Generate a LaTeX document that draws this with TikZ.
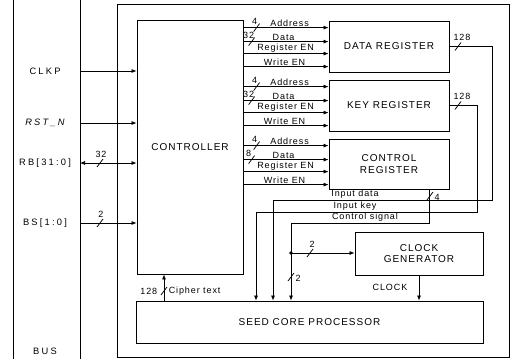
\documentclass[tikz,border=0pt]{standalone}
\usepackage{fontspec}
\setmainfont{Liberation Sans}
\newfontfamily\lblfont[LetterSpace=10]{Liberation Sans}
\newfontfamily\sigfontfam[LetterSpace=24]{Liberation Sans}
\usetikzlibrary{arrows.meta,calc}
\newcommand{\bigfnt}{\lblfont\fontsize{10}{11.5}\selectfont}
\newcommand{\smallfnt}{\lblfont\fontsize{9}{10}\selectfont}
\newcommand{\sigfnt}{\sigfontfam\fontsize{9.3}{10}\selectfont}
\tikzset{
  box/.style={draw, line width=0.8pt, inner sep=0pt, align=center, font=\bigfnt},
  wire/.style={line width=0.75pt},
  arr/.style={wire, -{Latex[length=5pt,width=4pt]}},
  lbl/.style={font=\smallfnt, inner sep=0.6pt},
  sig/.style={font=\sigfnt, inner sep=0pt},
  num/.style={font=\smallfnt, inner sep=0.5pt},
  slashmark/.pic={\draw[wire] (-3,4) -- (3,-4);}
}
\begin{document}
\begin{tikzpicture}[x=1pt,y=-1pt]
\useasboundingbox (0,0) rectangle (513,359);
% bus and frame
\draw[wire] (13,0) -- (13,359);
\draw[wire] (80,0) -- (80,359);
\draw[wire] (117,4) rectangle (509,357);
\node[sig] at (45,351) {BUS};
% blocks
\node[box, minimum width=106pt, minimum height=254pt] (ctrl) at (190,147) {CONTROLLER};
\node[box, minimum width=120pt, minimum height=51pt] (dreg) at (389,46.5) {DATA REGISTER};
\node[box, minimum width=120pt, minimum height=51pt] (kreg) at (389,105.5) {KEY REGISTER};
\node[box, minimum width=120pt, minimum height=50pt] (creg) at (389,164) {CONTROL\\REGISTER};
\node[box, minimum width=128pt, minimum height=43pt] (clk) at (419,253.5) {CLOCK\\GENERATOR};
\node[box, minimum width=347pt, minimum height=42pt] (seed) at (309.5,322) {SEED CORE PROCESSOR};
% external inputs
\coordinate (iclk) at (80,71);
\coordinate (irst) at (80,123);
\coordinate (irb) at (80,163);
\coordinate (ibs) at (80,223);
\node[sig] at (45,71) {CLKP};
\node[sig] at (45,123) {\itshape RST\_N};
\node[sig] at (45,163) {RB[31:0]};
\node[sig] at (45,223) {BS[1:0]};
\draw[arr] (iclk) -- (iclk -| ctrl.west);
\draw[arr] (irst) -- (irst -| ctrl.west);
\draw[wire, {Latex[length=5pt,width=4pt]}-{Latex[length=5pt,width=4pt]}] (irb) -- (irb -| ctrl.west);
\draw[arr] (ibs) -- (ibs -| ctrl.west);
\pic at (100,163) {slashmark};
\node[num, anchor=south] at (101,158) {32};
\pic at (100,223) {slashmark};
\node[num, anchor=south] at (101,218) {2};
% register write interfaces
\foreach \r/\n in {dreg/32,kreg/32,creg/8}{
  \coordinate (A) at ($(\r.north west)+(0,7)$);
  \coordinate (D) at ($(\r.north west)+(0,21)$);
  \coordinate (R) at ($(\r.north west)+(0,33)$);
  \coordinate (W) at ($(\r.north west)+(0,46)$);
  \draw[arr] (A -| ctrl.east) -- (A);
  \draw[arr] (D -| ctrl.east) -- (D);
  \draw[arr] (R -| ctrl.east) -- (R);
  \draw[arr] (W -| ctrl.east) -- (W);
  \node[lbl, anchor=south] at ($(A)+(-39,0)$) {Address};
  \node[lbl, anchor=south] at ($(D)+(-45,0)$) {Data};
  \node[lbl, anchor=south] at ($(R)+(-43,0)$) {Register EN};
  \node[lbl, anchor=south] at ($(W)+(-44,0)$) {Write EN};
  \pic at ($(A)+(-72,0)$) {slashmark};
  \node[num, anchor=south] at ($(A)+(-74,-2)$) {4};
  \pic at ($(D)+(-77,0)$) {slashmark};
  \node[num, anchor=south] at ($(D)+(-80,-2)$) {\n};
}
% register outputs to core
\coordinate (d1) at (492,200);
\coordinate (d2) at (273,200);
\draw[arr] (dreg.east) -| (d1) -- (d2) -- (d2 |- seed.north);
\pic at (458,46.5) {slashmark};
\node[num, anchor=south] at (462,41) {128};
\coordinate (k1) at (477,212);
\coordinate (k2) at (256,212);
\draw[arr] (kreg.east) -| (k1) -- (k2) -- (k2 |- seed.north);
\pic at (458,105.5) {slashmark};
\node[num, anchor=south] at (462,100) {128};
\coordinate (cx) at (429,0);
\coordinate (c1) at (429,223);
\coordinate (c2) at (291,223);
\draw[arr] (creg.south -| cx) -- (c1) -- (c2) -- (c2 |- seed.north);
\pic at (430,196) {slashmark};
\node[num, anchor=west] at (434,197) {4};
\node[lbl, anchor=south] at (355,199) {Input data};
\node[lbl, anchor=south] at (355,211) {Input key};
\node[lbl, anchor=south] at (365,222) {Control signal};
% clock generator control
\coordinate (j) at (291,253);
\fill (j) circle (1.8pt);
\draw[arr] (j) -- (j -| clk.west);
\pic at (310,253) {slashmark};
\node[num, anchor=south] at (312,248) {2};
\pic at (291,277) {slashmark};
\node[num, anchor=west] at (295,278) {2};
\draw[arr] (clk.south) -- (clk.south |- seed.north);
\node[lbl] at (390,287) {CLOCK};
% cipher text
\coordinate (px) at (164,0);
\draw[arr] (seed.north -| px) -- (ctrl.south -| px);
\pic at (164,291) {slashmark};
\node[lbl, anchor=east] at (158,291) {128};
\node[lbl, anchor=west] at (168,291) {Cipher text};
\end{tikzpicture}
\end{document}
